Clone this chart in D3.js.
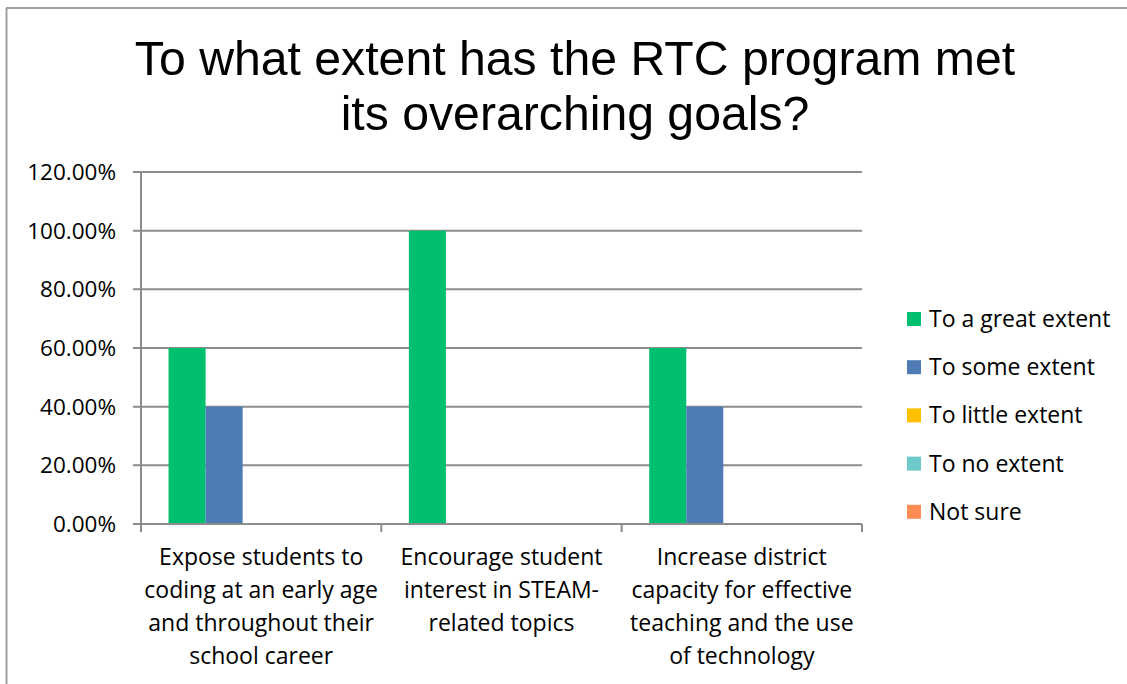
<!DOCTYPE html>
<html><head><meta charset="utf-8">
<script src="https://cdn.jsdelivr.net/npm/d3@7"></script>
<style>body{margin:0;background:#fff;} svg{display:block;}</style>
</head><body>
<svg id="c" width="1127" height="684"></svg>
<script>
const categories = [
  ["Expose students to","coding at an early age","and throughout their","school career"],
  ["Encourage student","interest in STEAM-","related topics"],
  ["Increase district","capacity for effective","teaching and the use","of technology"]
];
const categoryKeys = ["Expose","Encourage","Increase"];
const seriesNames = ["To a great extent","To some extent","To little extent","To no extent","Not sure"];
const seriesColors = ["#00BF6F","#4F7BB5","#FFC000","#6DCACB","#FF8C52"];
const greatExtent = [0.60, 1.00, 0.60];
const someExtent = [0.40, 0.00, 0.40];
const littleExtent = [0, 0, 0];
const noExtent = [0, 0, 0];
const notSure = [0, 0, 0];
const yTicks = [0, 0.2, 0.4, 0.6, 0.8, 1.0, 1.2];
const titleLines = ["To what extent has the RTC program met","its overarching goals?"];

const seriesValues = [greatExtent, someExtent, littleExtent, noExtent, notSure];
const svg = d3.select("#c");
const labelFont = "'Open Sans', 'Noto Sans', sans-serif";

// border (top and left edges visible)
svg.append("line").attr("x1",6).attr("x2",1127).attr("y1",8).attr("y2",8)
  .attr("stroke","#a0a0a0").attr("stroke-width",2);
svg.append("line").attr("x1",6.5).attr("x2",6.5).attr("y1",8).attr("y2",684)
  .attr("stroke","#a0a0a0").attr("stroke-width",2);

// title
const title = svg.append("text").attr("text-anchor","middle")
  .attr("font-family","'Liberation Sans', Arial, sans-serif").attr("font-size",48.2).attr("fill","#000");
titleLines.forEach((t,i)=>title.append("tspan").attr("x",575).attr("y",75+i*55).text(t));

const pLeft=141, pRight=862, pTop=172, pBottom=524;
const x0 = d3.scaleBand().domain(categoryKeys).range([pLeft,pRight]).paddingInner(0).paddingOuter(0);
const x1 = d3.scaleBand().domain(seriesNames).range([0,x0.bandwidth()]).paddingInner(0).paddingOuter(0.743);
const y = d3.scaleLinear().domain([0,1.2]).range([pBottom,pTop]);

// gridlines
svg.append("g").selectAll("line").data(yTicks).join("line")
  .attr("x1",pLeft-8).attr("x2",pRight).attr("y1",d=>y(d)).attr("y2",d=>y(d))
  .attr("stroke","#8c8c8c").attr("stroke-width",2);

// y tick labels
svg.append("g").selectAll("text").data(yTicks).join("text")
  .attr("x",116).attr("y",d=>y(d)).attr("dy","0.35em").attr("text-anchor","end")
  .attr("font-family",labelFont).attr("font-size",22.5).attr("fill","#000")
  .text(d=>d3.format(".2%")(d));

// bars
categoryKeys.forEach((c,ci)=>{
  seriesNames.forEach((s,si)=>{
    const v = seriesValues[si][ci];
    if(v>0){
      svg.append("rect").attr("x",x0(c)+x1(s)).attr("width",x1.bandwidth())
        .attr("y",y(v)).attr("height",y(0)-y(v)).attr("fill",seriesColors[si]);
    }
  });
});

// axes lines
svg.append("line").attr("x1",pLeft).attr("x2",pLeft).attr("y1",pTop).attr("y2",pBottom+8)
  .attr("stroke","#8c8c8c").attr("stroke-width",2);
svg.append("line").attr("x1",pLeft-8).attr("x2",pRight).attr("y1",pBottom).attr("y2",pBottom)
  .attr("stroke","#8c8c8c").attr("stroke-width",2);
const bounds = categoryKeys.map(c=>x0(c)).concat([pRight]);
svg.append("g").selectAll("line").data(bounds).join("line")
  .attr("x1",d=>d).attr("x2",d=>d).attr("y1",pBottom).attr("y2",pBottom+8)
  .attr("stroke","#8c8c8c").attr("stroke-width",2);

// category labels
categoryKeys.forEach((c,ci)=>{
  const t = svg.append("text").attr("text-anchor","middle")
    .attr("font-family",labelFont).attr("font-size",23).attr("fill","#000");
  categories[ci].forEach((line,li)=>t.append("tspan")
    .attr("x",x0(c)+x0.bandwidth()/2).attr("y",565+li*33).text(line));
});

// legend
const lg = svg.append("g");
seriesNames.forEach((s,i)=>{
  const cy = 319+i*48.2;
  lg.append("rect").attr("x",907).attr("y",cy-7).attr("width",14).attr("height",14).attr("fill",seriesColors[i]);
  lg.append("text").attr("x",929).attr("y",cy).attr("dy","0.35em")
    .attr("font-family",labelFont).attr("font-size",23).attr("fill","#000").text(s);
});
</script>
</body></html>
